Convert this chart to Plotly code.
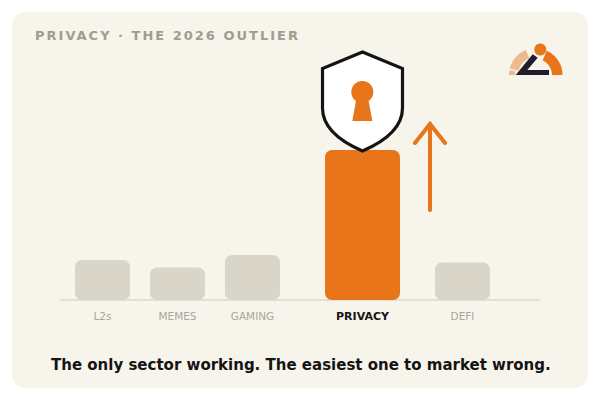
import numpy as np
import plotly.graph_objects as go

# Sector values and labels
categories = ["L2s", "MEMES", "GAMING", "PRIVACY", "DEFI"]
values = [40, 32.5, 45, 150, 37.5]
x_centers = [42.5, 117.5, 192.5, 302.5, 402.5]
bar_widths = [55, 55, 55, 75, 55]

title_text = "PRIVACY · THE 2026 OUTLIER"
caption_text = "The only sector working. The easiest one to market wrong."

FONT = "DejaVu Sans"
CARD = "#f7f4ec"
GREY_BAR = "#d9d6c9"
BASELINE = "#e2dfd3"
ORANGE = "#e8751a"
PEACH = "#eeb98c"
INK = "#141414"
NAVY = "#1f1c2b"
MUTED = "#a9a69a"
TITLE = "#a09c8e"
HIGHLIGHT = "PRIVACY"

W, H = 600, 400
ML, MR, MT, MB = 60, 60, 0, 100
PLOT_W, PLOT_H = W - ML - MR, H - MT - MB


def px(x):
    return (x - ML) / PLOT_W


def py(y):
    return (H - MB - y) / PLOT_H


def pt(x, y):
    return f"{px(x):.5f},{py(y):.5f}"


def poly(points, close=True):
    d = "M" + " L".join(pt(x, y) for x, y in points)
    return d + (" Z" if close else "")


def rounded_rect(x0, y0, x1, y1, r):
    return (
        f"M{pt(x0 + r, y0)} L{pt(x1 - r, y0)} Q{pt(x1, y0)} {pt(x1, y0 + r)} "
        f"L{pt(x1, y1 - r)} Q{pt(x1, y1)} {pt(x1 - r, y1)} "
        f"L{pt(x0 + r, y1)} Q{pt(x0, y1)} {pt(x0, y1 - r)} "
        f"L{pt(x0, y0 + r)} Q{pt(x0, y0)} {pt(x0 + r, y0)} Z"
    )


def circle(cx, cy, r):
    a = np.linspace(0, 2 * np.pi, 48, endpoint=False)
    return poly(list(zip(cx + r * np.cos(a), cy + r * np.sin(a))))


def ring_segment(cx, cy, r_in, r_out, deg0, deg1):
    a = np.radians(np.linspace(deg0, deg1, 40))
    outer = list(zip(cx + r_out * np.cos(a), cy - r_out * np.sin(a)))
    inner = list(zip(cx + r_in * np.cos(a[::-1]), cy - r_in * np.sin(a[::-1])))
    return poly(outer + inner)


def filled(path, color):
    return dict(type="path", xref="paper", yref="paper", path=path,
                fillcolor=color, line=dict(width=0), layer="above")


def stroked(path, color, width, fill="rgba(0,0,0,0)"):
    return dict(type="path", xref="paper", yref="paper", path=path,
                fillcolor=fill, line=dict(color=color, width=width), layer="above")


card = dict(type="path", xref="paper", yref="paper", layer="below",
            path=rounded_rect(12, 12, 588, 388, 15),
            fillcolor=CARD, line=dict(width=0))

baseline = dict(type="line", xref="paper", yref="paper", layer="below",
                x0=0, x1=1, y0=py(300), y1=py(300),
                line=dict(color=BASELINE, width=2))

# Shield with keyhole
shield_path = (
    f"M{pt(362.5, 52)} L{pt(402.5, 68.5)} L{pt(402.5, 108)} "
    f"C{pt(402.5, 130)} {pt(381, 143)} {pt(362.5, 151)} "
    f"C{pt(344, 143)} {pt(322.5, 130)} {pt(322.5, 108)} "
    f"L{pt(322.5, 68.5)} Z"
)
shield = [
    stroked(shield_path, INK, 3.2, "#ffffff"),
    filled(circle(362.3, 92, 11), ORANGE),
    filled(poly([(356.5, 98), (368, 98), (372.4, 121), (352.3, 121)]), ORANGE),
]

# Upward arrow beside the highlighted bar
arrow = [
    stroked(poly([(430, 210), (430, 124)], close=False), ORANGE, 4),
    stroked(poly([(415, 143), (430, 124), (445, 143)], close=False), ORANGE, 4),
    filled(circle(430, 210, 2), ORANGE),
    filled(circle(415, 143, 2), ORANGE),
    filled(circle(445, 143, 2), ORANGE),
    filled(circle(430, 124, 2), ORANGE),
]

# Corner logo
logo = [
    filled(ring_segment(536, 75, 18, 27, 112, 166), PEACH),
    filled(ring_segment(536, 75, 21, 27, 170, 180), PEACH),
    filled(ring_segment(536, 75, 16, 26.5, 0, 66), ORANGE),
    filled(circle(540.3, 49.5, 6), ORANGE),
    filled(poly([(532.7, 54.3), (537.7, 57.7), (527.3, 70), (549, 70),
                 (549, 75), (515.7, 75)]), NAVY),
]

colors = [ORANGE if c == HIGHLIGHT else GREY_BAR for c in categories]

fig = go.Figure()
# An explicit base makes both ends of each bar rounded
fig.add_bar(x=x_centers, y=values, base=[0] * len(values), width=bar_widths,
            marker=dict(color=colors, line=dict(width=0)), hoverinfo="skip")

ticktext = [
    f'<b><span style="color:{INK};font-size:11px">{c}</span></b>' if c == HIGHLIGHT else c
    for c in categories
]

fig.update_layout(
    width=W, height=H,
    margin=dict(l=ML, r=MR, t=MT, b=MB, autoexpand=False),
    paper_bgcolor="#ffffff", plot_bgcolor="rgba(0,0,0,0)",
    barcornerradius=7, showlegend=False,
    font=dict(family=FONT),
    xaxis=dict(range=[0, PLOT_W], tickmode="array", tickvals=x_centers,
               ticktext=ticktext, showgrid=False, zeroline=False,
               showline=False, ticks="",
               ticklabelstandoff=8, tickangle=0,
               tickfont=dict(family=FONT, size=10.5, color=MUTED)),
    yaxis=dict(range=[0, PLOT_H], visible=False),
    shapes=[card, baseline] + shield + arrow + logo,
    annotations=[
        dict(xref="paper", yref="paper", x=px(33), y=py(35), xanchor="left",
             yanchor="middle", showarrow=False,
             text=f'<b><span style="letter-spacing:2px">{title_text}</span></b>',
             font=dict(family=FONT, size=13, color=TITLE)),
        dict(xref="paper", yref="paper", x=px(301), y=py(365), xanchor="center",
             yanchor="middle", showarrow=False,
             text=f"<b>{caption_text}</b>",
             font=dict(family=FONT, size=15, color=INK)),
    ],
)

fig.write_html("out.html", config=dict(displayModeBar=False))
